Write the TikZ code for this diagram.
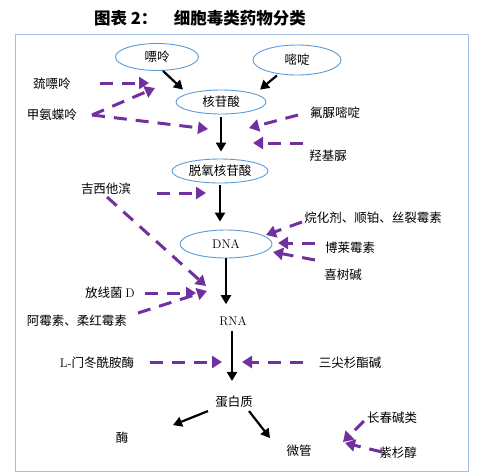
\documentclass[tikz,border=0pt]{standalone}
\usepackage{fontspec}
\newfontfamily\cjk{Noto Sans CJK SC}
\usetikzlibrary{arrows.meta, shapes.geometric}
\definecolor{framblue}{RGB}{160,190,228}
\definecolor{ellblue}{RGB}{91,155,213}
\definecolor{drugpurple}{RGB}{112,48,160}
\tikzset{bubble/.style={ellipse, draw=ellblue, line width=0.9pt, inner sep=0pt, font=\cjk\fontsize{12.5}{14}\selectfont},
         drugname/.style={inner sep=1pt, font=\cjk\fontsize{12.5}{14}\selectfont},
         flow/.style={line width=2.2pt, -{Triangle[length=9pt,width=10pt]}},
         hit/.style={draw=drugpurple, line width=3pt, dash pattern=on 13pt off 9pt, -{Triangle[length=10pt,width=12pt]}}}

\begin{document}
\begin{tikzpicture}[x=1pt, y=-1pt]
\useasboundingbox (0,0) rectangle (480,475);
\node[font=\cjk\bfseries\fontsize{16.5}{18}\selectfont] (title) at (200,18) {图表 2：\quad 细胞毒类药物分类};
\draw[framblue, line width=1pt] (15,34) rectangle (468,471);

% main pathway
\node[bubble, minimum width=83pt, minimum height=27pt] (pu)  at (157,57)  {嘌呤};
\node[bubble, minimum width=88pt, minimum height=30pt] (mi)  at (297,60)  {嘧啶};
\node[bubble, minimum width=90pt, minimum height=24pt] (hg)  at (221,102) {核苷酸};
\node[bubble, minimum width=96pt, minimum height=24pt] (tq)  at (220,171) {脱氧核苷酸};
\node[bubble, minimum width=92pt, minimum height=28pt, font=\fontsize{12.5}{14}\selectfont] (dna) at (226,244) {DNA};
\node[drugname, font=\fontsize{12.5}{14}\selectfont] (rna) at (233,321) {RNA};
\node[drugname] (prot) at (234,402) {蛋白质};
\node[drugname] (mei)  at (122,438) {酶};
\node[drugname] (wg)   at (299,451) {微管};

\draw[flow] ([xshift=6pt]pu.south) -- ([xshift=-38pt]hg.north);
\draw[flow] ([xshift=-20pt]mi.south) -- ([xshift=39pt]hg.north);
\draw[flow, shorten <=3pt, shorten >=7pt] (hg.south) -- (hg.south |- tq.north);
\draw[flow, shorten <=2pt, shorten >=8pt] (tq.south) -- (tq.south |- dna.north);
\draw[flow, shorten >=11pt] (dna.south) -- (dna.south |- rna.north);
\draw[flow, shorten <=4pt, shorten >=14pt] ([xshift=-1pt]rna.south) -- ([xshift=-1pt]rna.south |- prot.north);
\draw[flow] ([xshift=-26pt,yshift=-2pt]prot.south) -- ([xshift=51pt,yshift=6pt]mei.north);
\draw[flow] ([xshift=15pt,yshift=-2pt]prot.south) -- ([xshift=-29pt,yshift=6pt]wg.north);

% drug names
\node[drugname] (qp)   at (52,84)   {巯嘌呤};
\node[drugname] (mtx)  at (52,115)  {甲氨蝶呤};
\node[drugname] (fu)   at (335,113) {氟脲嘧啶};
\node[drugname] (hu)   at (328,156) {羟基脲};
\node[drugname] (gem)  at (106,189) {吉西他滨};
\node[drugname] (alk)  at (373,218) {烷化剂、顺铂、丝裂霉素};
\node[drugname] (bleo) at (350,248) {博莱霉素};
\node[drugname] (cpt)  at (343,275) {喜树碱};
\node[drugname] (act)  at (110,293) {放线菌 {\fontspec{Latin Modern Roman}D}};
\node[drugname] (dox)  at (77,321)  {阿霉素、柔红霉素};
\node[drugname] (asp)  at (97,363)  {{\fontspec{Latin Modern Roman}L-}门冬酰胺酶};
\node[drugname] (hht)  at (350,363) {三尖杉酯碱};
\node[drugname] (vin)  at (392,418) {长春碱类};
\node[drugname] (ptx)  at (398,453) {紫杉醇};

\path % where the drugs hit
  (100,83)  coordinate (qpout)   (149,83)  coordinate (qphit)
  (92,115)  coordinate (mtxout)  (155,88)  coordinate (mtxhitA)
  (208,129) coordinate (mtxhitB)
  (298,115) coordinate (fuout)   (249,128) coordinate (fuhit)
  (303,143) coordinate (huout)   (253,143) coordinate (huhit)
  (157,193) coordinate (gemout)  (206,193) coordinate (gemhitA)
  (107,197) coordinate (gemoutB) (206,286) coordinate (gemhitB)
  (302,222) coordinate (alkout)  (266,235) coordinate (alkhit)
  (315,243) coordinate (bleoout) (278,243) coordinate (bleohit)
  (315,260) coordinate (cptout)  (273,252) coordinate (cpthit)
  (145,293) coordinate (actout)  (196,293) coordinate (acthit)
  (138,313) coordinate (doxout)  (207,291) coordinate (doxhit)
  (150,362) coordinate (aspout)  (222,362) coordinate (asphit)
  (303,362) coordinate (hhtout)  (242,362) coordinate (hhthit)
  (364,421) coordinate (vinout)  (343,442) coordinate (vinhit)
  (382,452) coordinate (ptxout)  (345,443) coordinate (ptxhit)
  ;

\draw[hit] (qpout) -- (qphit);
\draw[hit] (mtxout) -- (mtxhitA);
\draw[hit] (mtxout) -- (mtxhitB);
\draw[hit] (fuout) -- (fuhit);
\draw[hit] (huout) -- (huhit);
\draw[hit] (gemout) -- (gemhitA);
\draw[hit] (gemoutB) -- (gemhitB);
\draw[hit] (alkout) -- (alkhit);
\draw[hit] (bleoout) -- (bleohit);
\draw[hit] (cptout) -- (cpthit);
\draw[hit] (actout) -- (acthit);
\draw[hit] (doxout) -- (doxhit);
\draw[hit] (aspout) -- (asphit);
\draw[hit] (hhtout) -- (hhthit);
\draw[hit] (vinout) -- (vinhit);
\draw[hit] (ptxout) -- (ptxhit);
\end{tikzpicture}
\end{document}
